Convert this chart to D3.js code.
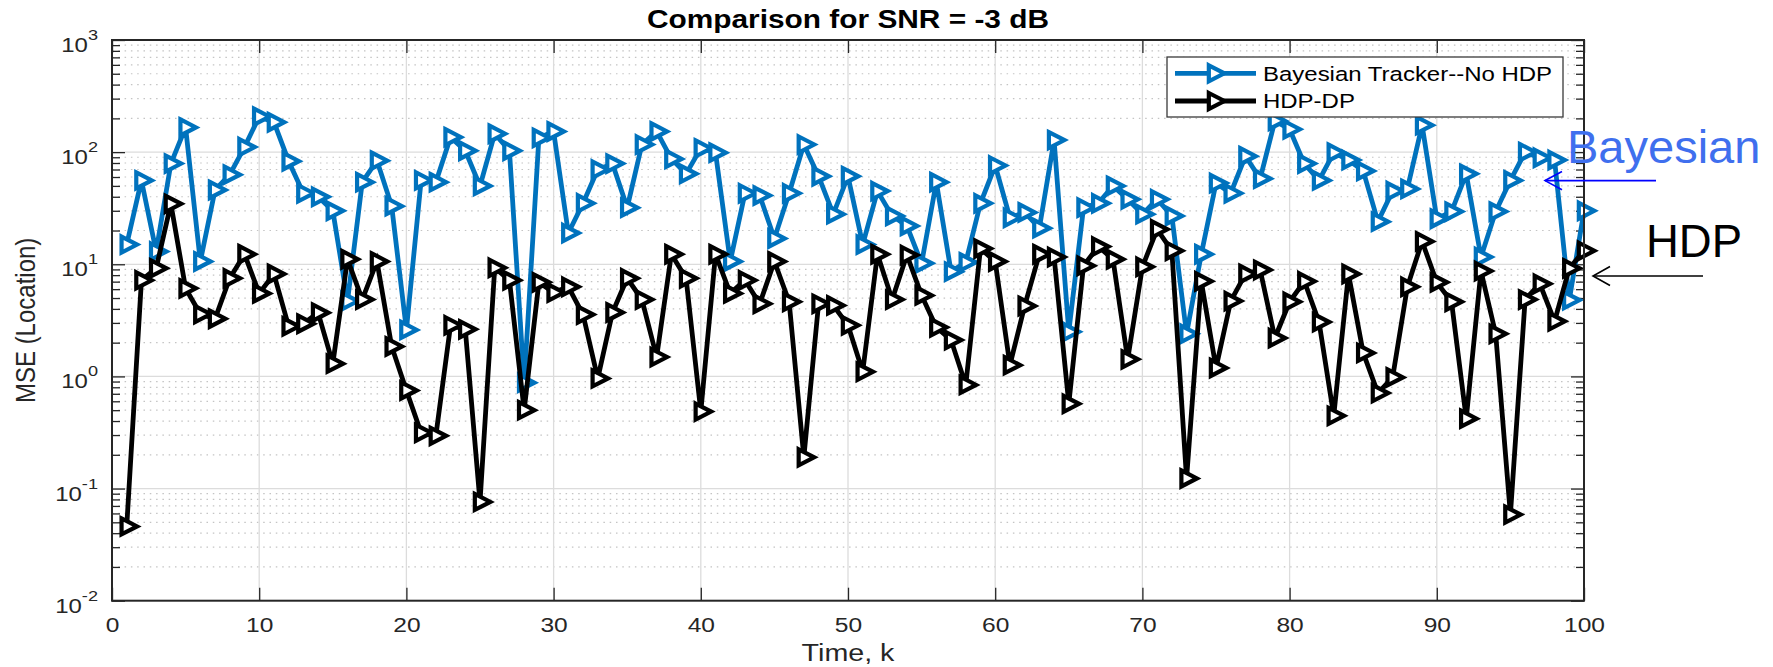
<!DOCTYPE html>
<html>
<head>
<meta charset="utf-8">
<script src="https://cdn.jsdelivr.net/npm/d3@7/dist/d3.min.js"></script>
<style>
  html, body { margin: 0; padding: 0; background: #ffffff; }
  svg { display: block; }
  text { font-family: "Liberation Sans", Arial, Helvetica, sans-serif; }
</style>
</head>
<body>
<svg id="chart" width="1773" height="667"></svg>
<script>
// ---- data -------------------------------------------------------------
const timeSteps = d3.range(1, 101);

const bayesianMse = [
  15, 56, 13, 79, 166, 10.6, 46, 63, 111, 207,
  185, 83, 43, 40, 30, 4.7, 54, 84, 33, 2.6,
  56, 54, 136, 103, 50, 146, 103, 0.88, 134, 153,
  19, 35, 70, 79, 32, 117, 153, 87, 64, 108,
  99, 10.6, 43, 41, 17, 43, 117, 61, 28, 61,
  15, 45, 27, 22, 10.2, 54, 8.6, 10.4, 35, 76,
  26, 29, 21, 128, 2.5, 32, 35, 50, 38, 28,
  38, 27, 2.4, 12.3, 53, 43, 92, 58, 190, 160,
  79, 56, 99, 85, 68, 24, 45, 47, 174, 25.5,
  29.5, 64, 11.6, 29.5, 56, 100, 89, 85, 4.8, 30
];

const hdpMse = [
  0.046, 7.2, 9.2, 34.6, 6.1, 3.6, 3.27, 7.5, 12.3, 5.5,
  8.2, 2.8, 2.95, 3.7, 1.3, 11.1, 4.84, 10.6, 1.85, 0.75,
  0.314, 0.295, 2.86, 2.63, 0.076, 9.3, 7.2, 0.5, 6.9, 5.6,
  6.3, 3.56, 0.96, 3.72, 7.5, 4.84, 1.49, 12.3, 7.5, 0.486,
  12.3, 5.5, 7.2, 4.44, 10.6, 4.63, 0.19, 4.44, 4.3, 2.86,
  1.1, 12.3, 4.84, 12.1, 5.28, 2.74, 2.11, 0.84, 13.8, 10.6,
  1.26, 4.25, 12.3, 11.6, 0.57, 9.7, 14.4, 11.1, 1.42, 9.5,
  20.5, 13.2, 0.123, 7.05, 1.19, 4.7, 8.2, 8.9, 2.2, 4.63,
  7.05, 3.05, 0.445, 8.2, 1.62, 0.71, 0.98, 6.3, 16, 6.9,
  4.63, 0.42, 8.7, 2.4, 0.0586, 4.84, 6.7, 3.1, 9.2, 13.2
];

const seriesNames = ["Bayesian Tracker--No HDP", "HDP-DP"];
const seriesColors = ["#0072BD", "#000000"];
const xTickValues = d3.range(0, 101, 10);
const yDecadeExponents = [-2, -1, 0, 1, 2, 3];
const titleText = "Comparison for SNR = -3 dB";
const xLabelText = "Time, k";
const yLabelText = "MSE (Location)";
const noteBayesian = "Bayesian";
const noteHdp = "HDP";

// ---- layout -----------------------------------------------------------
const plot = { left: 112, right: 1584, top: 40, bottom: 600.7 };
const sx = 1.17;            // horizontal glyph stretch used for all figure text
const axisColor = "#262626";

const svg = d3.select("#chart");

const x = d3.scaleLinear().domain([0, 100]).range([plot.left, plot.right]);
const y = d3.scaleLog().domain([1e-2, 1e3]).range([plot.bottom, plot.top]);

const decadeValues = yDecadeExponents.map(e => Math.pow(10, e));
const minorValues = [];
for (let e = -2; e < 3; e++) {
  for (let m = 2; m <= 9; m++) minorValues.push(m * Math.pow(10, e));
}

// ---- grid -------------------------------------------------------------
const grid = svg.append("g").attr("class", "grid");

grid.selectAll("line.minor")
  .data(minorValues)
  .join("line")
  .attr("class", "minor")
  .attr("x1", plot.left).attr("x2", plot.right)
  .attr("y1", d => y(d)).attr("y2", d => y(d))
  .attr("stroke", "#c4c4c4")
  .attr("stroke-width", 1.2)
  .attr("stroke-dasharray", "1.5 4.8");

grid.selectAll("line.majorY")
  .data(decadeValues.slice(1, -1))
  .join("line")
  .attr("class", "majorY")
  .attr("x1", plot.left).attr("x2", plot.right)
  .attr("y1", d => y(d)).attr("y2", d => y(d))
  .attr("stroke", "#dcdcdc")
  .attr("stroke-width", 1.3);

grid.selectAll("line.majorX")
  .data(xTickValues.slice(1, -1))
  .join("line")
  .attr("class", "majorX")
  .attr("x1", d => x(d)).attr("x2", d => x(d))
  .attr("y1", plot.top).attr("y2", plot.bottom)
  .attr("stroke", "#dcdcdc")
  .attr("stroke-width", 1.3);

// ---- axes (ticks point inward, box drawn separately) ------------------
function styleAxis(g) {
  g.select(".domain").remove();
  g.selectAll(".tick line").attr("stroke", axisColor).attr("stroke-width", 1.3);
}

svg.append("g")
  .attr("transform", `translate(0,${plot.bottom})`)
  .call(d3.axisBottom(x).tickValues(xTickValues).tickSize(-13).tickPadding(0).tickFormat(d3.format("d")))
  .call(styleAxis)
  .call(g => g.selectAll(".tick text")
    .attr("y", 0).attr("dy", null)
    .attr("transform", `translate(0,31.3) scale(${sx},1)`)
    .attr("fill", axisColor)
    .attr("font-size", 21)
    .attr("font-family", '"Liberation Sans", Arial, sans-serif'));

svg.append("g")
  .attr("transform", `translate(0,${plot.top})`)
  .call(d3.axisTop(x).tickValues(xTickValues).tickSize(-13).tickFormat(""))
  .call(styleAxis);

svg.append("g")
  .attr("transform", `translate(${plot.left},0)`)
  .call(d3.axisLeft(y).tickValues(decadeValues).tickSize(-13).tickFormat(""))
  .call(styleAxis);
svg.append("g")
  .attr("transform", `translate(${plot.left},0)`)
  .call(d3.axisLeft(y).tickValues(minorValues).tickSize(-8).tickFormat(""))
  .call(styleAxis);
svg.append("g")
  .attr("transform", `translate(${plot.right},0)`)
  .call(d3.axisRight(y).tickValues(decadeValues).tickSize(-13).tickFormat(""))
  .call(styleAxis);
svg.append("g")
  .attr("transform", `translate(${plot.right},0)`)
  .call(d3.axisRight(y).tickValues(minorValues).tickSize(-8).tickFormat(""))
  .call(styleAxis);

// y tick labels written as 10 with a raised exponent
const yLabels = svg.append("g").attr("class", "y-tick-labels");
yDecadeExponents.forEach(e => {
  const t = yLabels.append("text")
    .attr("transform", `translate(98,${y(Math.pow(10, e)) + 12}) scale(${sx},1)`)
    .attr("text-anchor", "end")
    .attr("fill", axisColor)
    .attr("font-size", 20.5);
  t.append("tspan").text("10");
  t.append("tspan").attr("dy", -12).attr("font-size", 15.5).text(String(e));
});

// ---- series -----------------------------------------------------------
const seriesData = [bayesianMse, hdpMse].map((vals, i) => ({
  name: seriesNames[i],
  color: seriesColors[i],
  points: timeSteps.map((k, j) => ({ k, v: vals[j] }))
}));

const line = d3.line().x(d => x(d.k)).y(d => y(d.v));

// right-pointing triangle centred on its centroid
const triW = 15.5, triH = 16;
const triPath = `M${-triW / 3},${-triH / 2}L${2 * triW / 3},0L${-triW / 3},${triH / 2}Z`;

const seriesLayer = svg.append("g").attr("class", "series");
seriesData.forEach(s => {
  const g = seriesLayer.append("g");
  g.append("path")
    .datum(s.points)
    .attr("d", line)
    .attr("fill", "none")
    .attr("stroke", s.color)
    .attr("stroke-width", 4.8)
    .attr("stroke-linejoin", "miter");
  g.selectAll("path.marker")
    .data(s.points)
    .join("path")
    .attr("class", "marker")
    .attr("d", triPath)
    .attr("transform", d => `translate(${x(d.k)},${y(d.v)})`)
    .attr("fill", "#ffffff")
    .attr("stroke", s.color)
    .attr("stroke-width", 4.2);
});

// ---- box --------------------------------------------------------------
svg.append("rect")
  .attr("x", plot.left).attr("y", plot.top)
  .attr("width", plot.right - plot.left).attr("height", plot.bottom - plot.top)
  .attr("fill", "none")
  .attr("stroke", axisColor)
  .attr("stroke-width", 2);

// ---- legend -----------------------------------------------------------
const legend = svg.append("g").attr("class", "legend");
legend.append("rect")
  .attr("x", 1167).attr("y", 57).attr("width", 396).attr("height", 60)
  .attr("fill", "#ffffff")
  .attr("stroke", "#3a3a3a")
  .attr("stroke-width", 1.3);
const legendRows = [73.3, 101];
seriesData.forEach((s, i) => {
  const yy = legendRows[i];
  legend.append("line")
    .attr("x1", 1175).attr("x2", 1256).attr("y1", yy).attr("y2", yy)
    .attr("stroke", s.color).attr("stroke-width", 4.8);
  legend.append("path")
    .attr("d", triPath)
    .attr("transform", `translate(1214,${yy})`)
    .attr("fill", "#ffffff")
    .attr("stroke", s.color)
    .attr("stroke-width", 4.2);
  legend.append("text")
    .attr("transform", `translate(1263,${yy + 7.3}) scale(${sx},1)`)
    .attr("font-size", 20.5)
    .attr("fill", "#000000")
    .text(s.name);
});

// ---- titles -----------------------------------------------------------
svg.append("text")
  .attr("transform", `translate(${(plot.left + plot.right) / 2},28) scale(${sx},1)`)
  .attr("text-anchor", "middle")
  .attr("font-size", 25.5)
  .attr("font-weight", "bold")
  .attr("fill", "#000000")
  .text(titleText);

svg.append("text")
  .attr("transform", `translate(${(plot.left + plot.right) / 2},661) scale(${sx},1)`)
  .attr("text-anchor", "middle")
  .attr("font-size", 24.5)
  .attr("fill", axisColor)
  .text(xLabelText);

svg.append("text")
  .attr("transform", `translate(35,${(plot.top + plot.bottom) / 2}) scale(${sx},1) rotate(-90)`)
  .attr("text-anchor", "middle")
  .attr("font-size", 24)
  .attr("fill", axisColor)
  .text(yLabelText);

// ---- side annotations with arrows -------------------------------------
const notes = svg.append("g").attr("class", "notes");
notes.append("text")
  .attr("x", 1567).attr("y", 162.5)
  .attr("font-size", 47)
  .attr("fill", "#3f6fee")
  .text(noteBayesian);
notes.append("line")
  .attr("x1", 1545).attr("x2", 1656).attr("y1", 180.6).attr("y2", 180.6)
  .attr("stroke", "#0000ff").attr("stroke-width", 1.6);
notes.append("polyline")
  .attr("points", "1562,171.5 1545,180.6 1562,189.7")
  .attr("fill", "none").attr("stroke", "#0000ff").attr("stroke-width", 1.6);

notes.append("text")
  .attr("x", 1646).attr("y", 257)
  .attr("font-size", 45.5)
  .attr("fill", "#000000")
  .text(noteHdp);
notes.append("line")
  .attr("x1", 1593).attr("x2", 1703).attr("y1", 276).attr("y2", 276)
  .attr("stroke", "#000000").attr("stroke-width", 1.6);
notes.append("polyline")
  .attr("points", "1610,266.5 1593,276 1610,285.5")
  .attr("fill", "none").attr("stroke", "#000000").attr("stroke-width", 1.6);
</script>
</body>
</html>
